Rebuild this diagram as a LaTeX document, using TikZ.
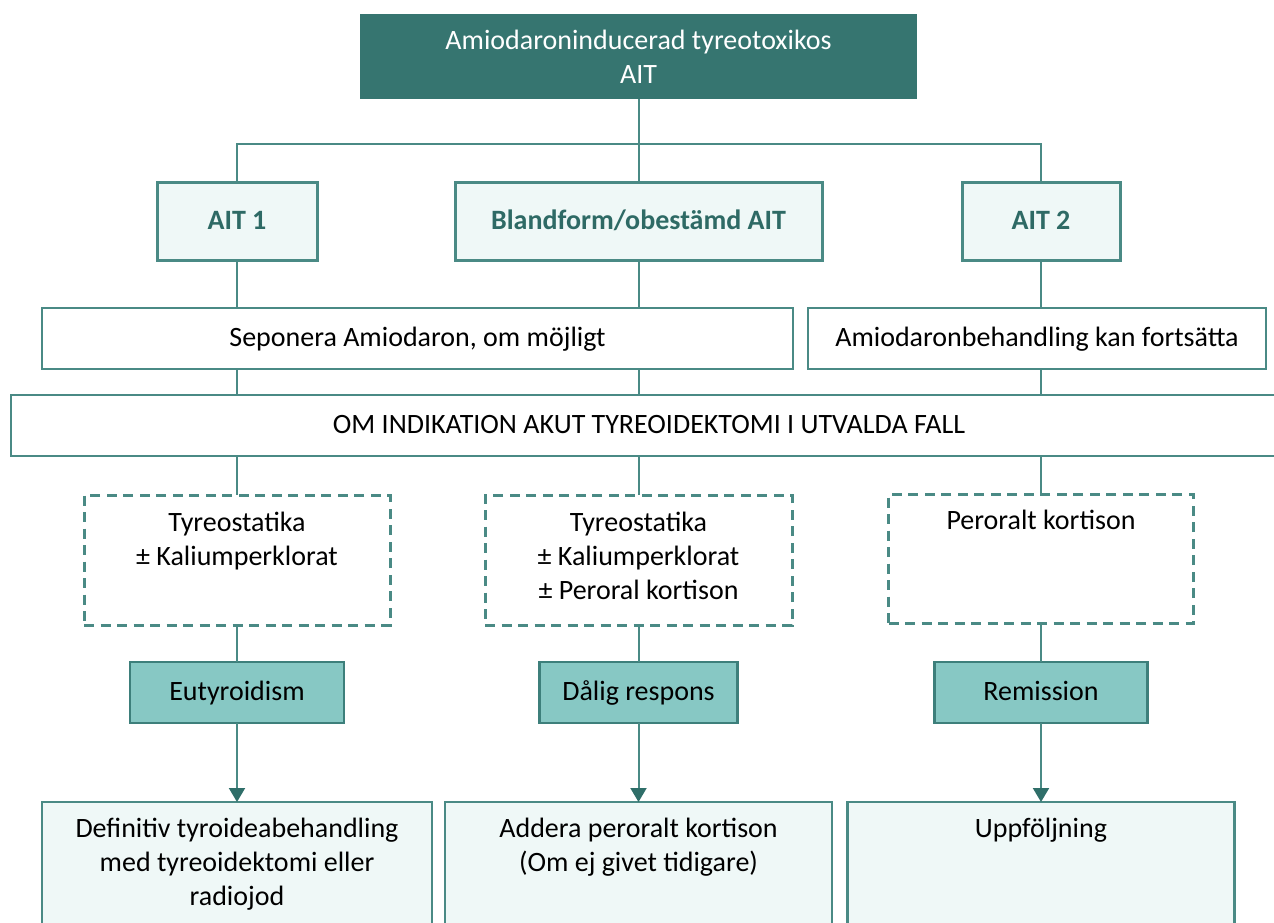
\documentclass[tikz,border=0pt]{standalone}
\usepackage{fontspec}
\setmainfont{Carlito}
\usetikzlibrary{arrows.meta}

\definecolor{tealdark}{HTML}{367570}
\definecolor{tealline}{HTML}{4A8A85}
\definecolor{tealedge}{HTML}{3D7F7B}
\definecolor{teallight}{HTML}{EFF8F7}
\definecolor{tealmid}{HTML}{87C8C4}
\definecolor{tealtext}{HTML}{2E6A65}
\definecolor{tealtip}{HTML}{2F6E69}

\begin{document}
\begin{tikzpicture}[x=1pt, y=-1pt,
  font=\fontsize{28}{34}\selectfont,
  every node/.style={inner sep=0pt, outer sep=0pt},
  oneline/.style={text height=20pt, text depth=4pt},
  headbox/.style={fill=tealdark, text=white, align=center},
  typebox/.style={oneline, fill=teallight, draw=tealline, line width=3pt,
                  text=tealtext, font=\fontsize{28}{34}\selectfont\bfseries},
  plainbox/.style={oneline, fill=white, draw=tealline, line width=2.5pt},
  dashbox/.style={draw=tealline, line width=3pt, dash pattern=on 10pt off 6.5pt},
  statebox/.style={oneline, fill=tealmid, draw=tealedge, line width=2.5pt},
  outbox/.style={fill=teallight, draw=tealline, line width=2.5pt},
  toptext/.style={anchor=north, align=center},
  link/.style={draw=tealline, line width=2pt},
  arrowlink/.style={link, -{Triangle[length=14pt, width=16pt, color=tealtip]}}
]
\clip (0,0) rectangle (1274,922);

% title
\node[headbox, minimum width=557pt, minimum height=85pt] (top) at (638.5,56.5)
  {Amiodaroninducerad tyreotoxikos\\AIT};

% AIT types
\node[typebox, minimum width=160pt, minimum height=78pt] (ait1) at (237,221) {AIT 1};
\node[typebox, minimum width=367pt, minimum height=78pt] (blend) at (638.5,221) {Blandform/obestämd AIT};
\node[typebox, minimum width=158pt, minimum height=78pt] (ait2) at (1041,221) {AIT 2};

% amiodarone handling
\node[plainbox, minimum width=751pt, minimum height=61pt] (sep) at (417.5,338.5)
  {Seponera Amiodaron, om möjligt};
\node[plainbox, minimum width=458pt, minimum height=61pt] (cont) at (1037,338.5)
  {Amiodaronbehandling kan fortsätta};

% surgery indication
\node[plainbox, minimum width=1276pt, minimum height=61pt] (om) at (649,425.5)
  {OM INDIKATION AKUT TYREOIDEKTOMI I UTVALDA FALL};

% medication
\node[dashbox, minimum width=306pt, minimum height=130pt] (d1) at (237,560) {};
\node[dashbox, minimum width=307pt, minimum height=130pt] (d2) at (638.5,560) {};
\node[dashbox, minimum width=305pt, minimum height=129pt] (d3) at (1041,558.5) {};
\node[toptext] (d1t) at ([yshift=-12.5pt]d1.north) {\strut Tyreostatika\\± Kaliumperklorat};
\node[toptext] (d2t) at ([yshift=-12.5pt]d2.north) {\strut Tyreostatika\\± Kaliumperklorat\\± Peroral kortison};
\node[toptext] (d3t) at ([yshift=-12pt]d3.north) {\strut Peroralt kortison};

% response
\node[statebox, minimum width=214pt, minimum height=61pt] (eu) at (237,692.5) {Eutyroidism};
\node[statebox, minimum width=198pt, minimum height=61pt] (dal) at (638.5,692.5) {Dålig respons};
\node[statebox, minimum width=213pt, minimum height=61pt] (rem) at (1041,692.5) {Remission};

% outcome
\node[outbox, minimum width=390pt, minimum height=140pt] (b1) at (237,872) {};
\node[outbox, minimum width=387pt, minimum height=140pt] (b2) at (638.5,872) {};
\node[outbox, minimum width=387pt, minimum height=140pt] (b3) at (1041,872) {};
\node[toptext] (b1t) at ([yshift=-12pt]b1.north)
  {\strut Definitiv tyroideabehandling\\med tyreoidektomi eller\\radiojod};
\node[toptext] (b2t) at ([yshift=-12pt]b2.north)
  {\strut Addera peroralt kortison\\(Om ej givet tidigare)};
\node[toptext] (b3t) at ([yshift=-12pt]b3.north) {\strut Uppföljning};

% tree from the title
\coordinate (bus) at (0,144);
\draw[link] (top.south) -- (blend.north);
\draw[link] (ait1.north) -- (ait1.north |- bus) -- (ait2.north |- bus) -- (ait2.north);

% column links
\draw[link] (ait1.south) -- (ait1.south |- sep.north);
\draw[link] (blend.south) -- (blend.south |- sep.north);
\draw[link] (ait2.south) -- (ait2.south |- cont.north);
\draw[link] (ait1.south |- sep.south) -- (ait1.south |- om.north);
\draw[link] (blend.south |- sep.south) -- (blend.south |- om.north);
\draw[link] (ait2.south |- cont.south) -- (ait2.south |- om.north);
\draw[link] (ait1.south |- om.south) -- (d1.north);
\draw[link] (blend.south |- om.south) -- (d2.north);
\draw[link] (ait2.south |- om.south) -- (d3.north);
\draw[link] (d1.south) -- (eu.north);
\draw[link] (d2.south) -- (dal.north);
\draw[link] (d3.south) -- (rem.north);

% arrows to outcome
\draw[arrowlink] (eu.south) -- (b1.north);
\draw[arrowlink] (dal.south) -- (b2.north);
\draw[arrowlink] (rem.south) -- (b3.north);
\end{tikzpicture}
\end{document}
